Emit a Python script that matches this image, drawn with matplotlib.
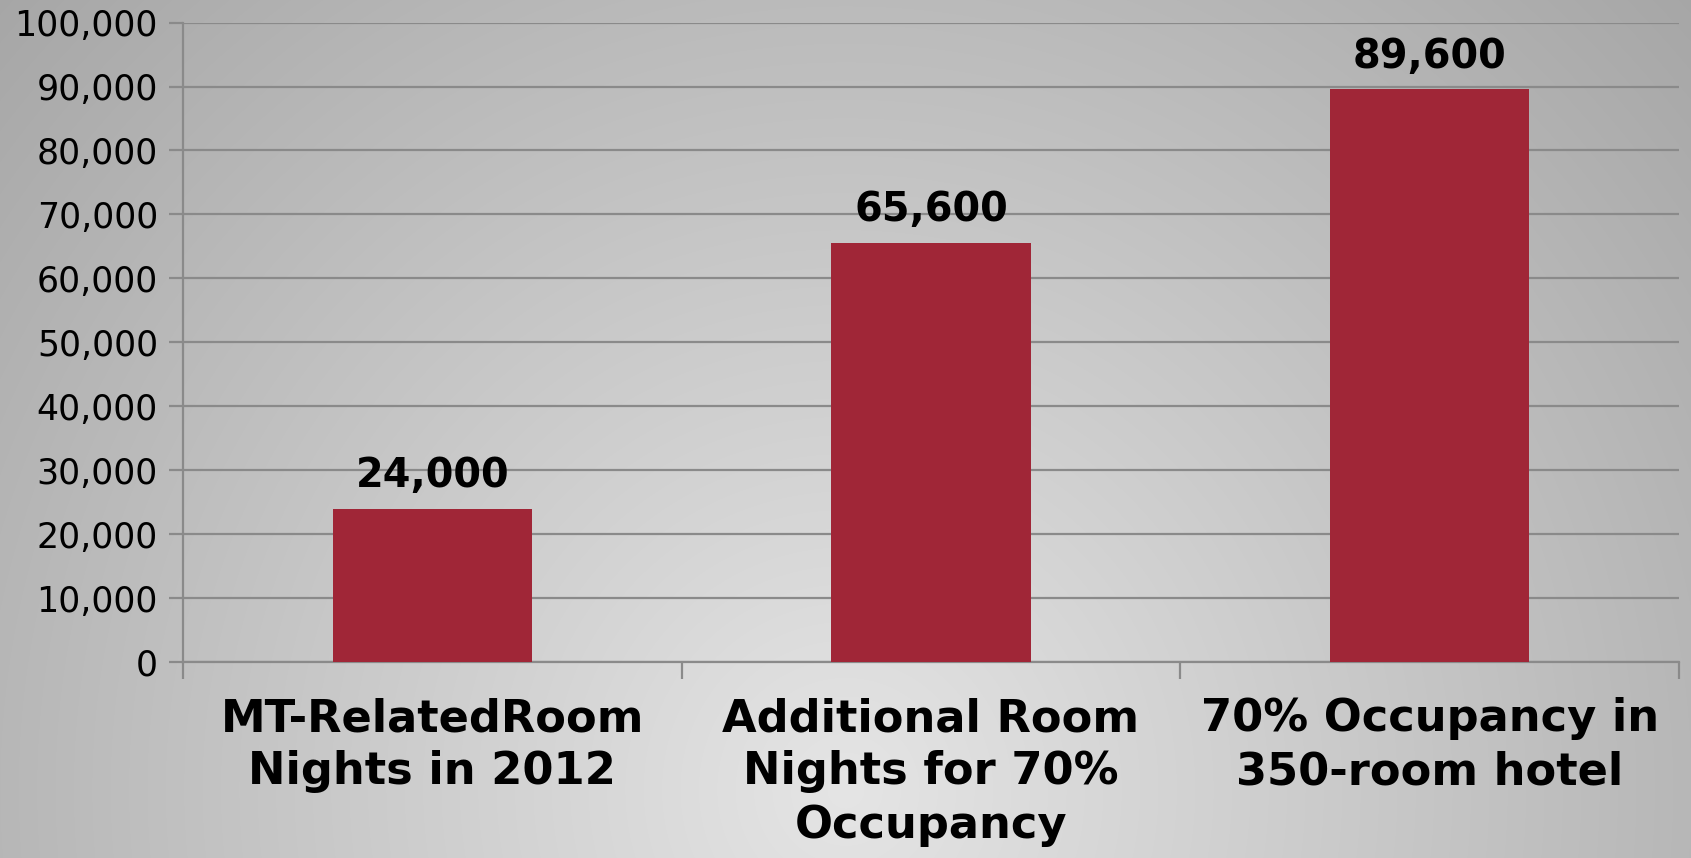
import numpy as np
import matplotlib
matplotlib.use("Agg")
import matplotlib.pyplot as plt
from matplotlib.ticker import FuncFormatter

categories = ["MT-RelatedRoom\nNights in 2012",
              "Additional Room\nNights for 70%\nOccupancy",
              "70% Occupancy in\n350-room hotel"]
values = [24000, 65600, 89600]
value_labels = ["24,000", "65,600", "89,600"]
y_ticks = [0, 10000, 20000, 30000, 40000, 50000, 60000, 70000, 80000, 90000, 100000]

W, H, DPI = 1691, 858, 100
fig = plt.figure(figsize=(W / DPI, H / DPI), dpi=DPI)

# soft radial grey backdrop, brightest near the bottom centre
bg = fig.add_axes([0, 0, 1, 1], zorder=0)
yy, xx = np.mgrid[0:H, 0:W]
dx = (xx - 0.5 * W) / (0.5 * W)
dy = (yy - 0.92 * H) / H
r = np.sqrt(dx ** 2 + dy ** 2)
shade = np.clip(229 - 46 * r, 150, 235) / 255.0
bg.imshow(np.dstack([shade, shade, shade]), aspect="auto", extent=[0, W, H, 0])
bg.set_axis_off()

ax = fig.add_axes([183 / W, 1 - 662 / H, (1679 - 183) / W, (662 - 22.6) / H], zorder=1)
ax.patch.set_alpha(0)

x = np.arange(len(categories))
ax.bar(x, values, width=0.4, color="#a02637", zorder=3)

ax.set_xlim(-0.5, len(categories) - 0.5)
ax.set_ylim(0, 100000)
ax.set_yticks(y_ticks)
ax.yaxis.set_major_formatter(FuncFormatter(lambda v, p: f"{int(v):,}"))
ax.grid(axis="y", color="#8a8a8a", linewidth=1.6, zorder=1)
ax.set_axisbelow(True)

for s in ["top", "right"]:
    ax.spines[s].set_visible(False)
ax.spines["left"].set_color("#8a8a8a")
ax.spines["bottom"].set_color("#8a8a8a")
ax.spines["left"].set_linewidth(1.6)
ax.spines["bottom"].set_linewidth(1.6)

ax.tick_params(axis="y", length=10, width=1.6, color="#8a8a8a", labelsize=25.0, pad=8)
ax.set_yticklabels([f"{v:,}" for v in y_ticks])
# category boundary ticks below the axis
ax.set_xticks(np.arange(len(categories) + 1) - 0.5)
ax.set_xticklabels([])
ax.tick_params(axis="x", length=12, width=1.6, color="#8a8a8a")

for xi, cat in zip(x, categories):
    ax.text(xi, -5500, cat, ha="center", va="top", fontsize=32.2, fontweight="bold",
            linespacing=1.3, transform=ax.transData, clip_on=False)

for xi, v, lab in zip(x, values, value_labels):
    ax.text(xi, v + 1900, lab, ha="center", va="bottom", fontsize=28.7, fontweight="bold")

fig.savefig("out.png", dpi=DPI)
